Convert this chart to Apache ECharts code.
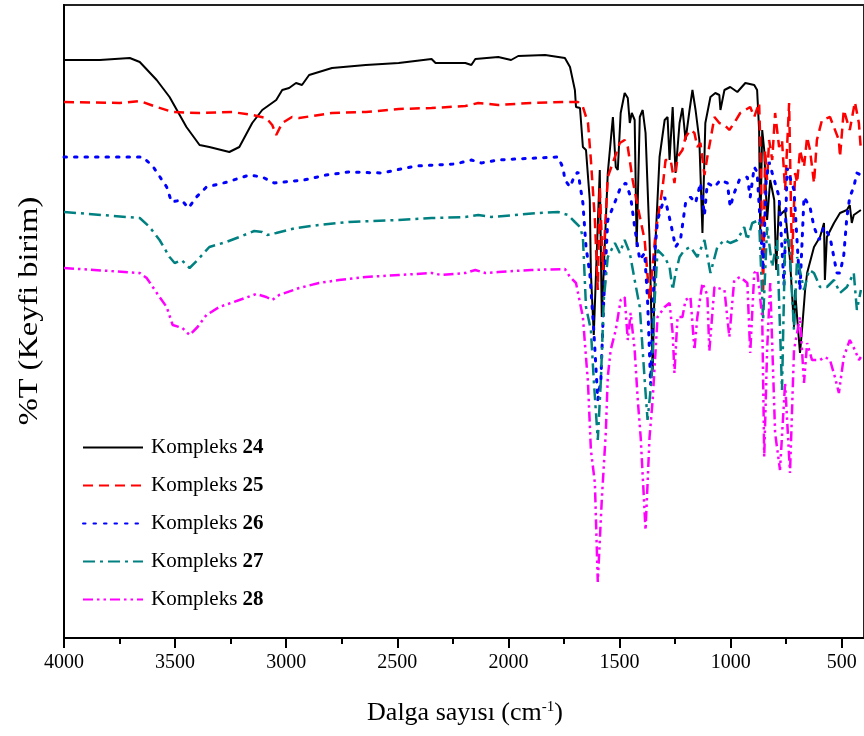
<!DOCTYPE html>
<html><head><meta charset="utf-8">
<script src="https://cdn.jsdelivr.net/npm/echarts@6/dist/echarts.min.js"></script>
<style>html,body{margin:0;padding:0;background:#fff}#c{width:864px;height:736px}</style>
</head><body><div id="c"></div>
<script>
const seriesNames = ['Kompleks 24','Kompleks 25','Kompleks 26','Kompleks 27','Kompleks 28'];
const xTickLabels = [4000,3500,3000,2500,2000,1500,1000,500];
const xMinorTicks = [3750,3250,2750,2250,1750,1250,750];
// [wavenumber cm-1, %T arbitrary units]
const k24 = [[4000,115.6],[3839,115.6],[3704,116],[3659,115.2],[3583,111.6],[3525,108.2],[3449,102.2],[3390,98.6],[3346,98.2],[3256,97.2],[3211,98.2],[3153,103],[3108,105.6],[3045,107.6],[3018,109.6],[2987,110],[2956,111],[2929,110.6],[2897,112.6],[2794,114],[2642,114.6],[2494,115],[2346,115.8],[2328,115],[2194,115],[2167,114.6],[2149,115.8],[2046,116.2],[1988,115.6],[1956,116.4],[1835,116.6],[1746,116],[1723,114.2],[1701,109.6],[1696,106.2],[1678,106],[1665,98.2],[1651,97.6],[1634,87.6],[1629,73],[1616,60.6],[1589,93.6],[1580,64.2],[1553,93],[1530,104.2],[1521,104.6],[1517,94.2],[1508,93.6],[1495,105],[1477,109],[1463,108],[1454,103],[1445,105],[1432,103.6],[1423,78.2],[1409,104.2],[1396,105.6],[1383,101],[1365,79.6],[1351,53.2],[1338,79.6],[1320,96.2],[1297,103.6],[1284,104.2],[1275,95.6],[1261,106.2],[1248,93],[1230,103],[1217,106],[1203,99.6],[1185,105.6],[1172,109.6],[1158,105.6],[1141,99.6],[1127,81],[1114,103],[1091,108.2],[1069,109],[1051,108.6],[1046,105.6],[1028,109.6],[1002,110.2],[970,109.2],[934,111],[894,110.6],[881,109.6],[872,101.6],[867,81],[858,101.6],[849,97.6],[836,83.6],[822,91.6],[804,87.6],[795,73.6],[782,87.6],[777,84.6],[755,85.6],[733,75.6],[715,62.2],[710,69.6],[701,64.2],[688,57],[679,61.6],[665,69.6],[656,73],[625,78.2],[598,80.2],[580,83],[576,71.6],[567,80.2],[535,83],[508,85],[477,85.6],[464,86.6],[455,83],[446,84.6],[414,85.6]];
const k25 = [[4000,107.2],[3749,107],[3659,107.4],[3583,106.2],[3511,105.2],[3390,105],[3243,105.2],[3153,104.6],[3090,104],[3063,102.6],[3045,100.6],[3018,103],[2974,104.2],[2942,104],[2794,105],[2642,105.2],[2494,105.8],[2346,106],[2194,106.4],[2136,107],[2046,106.6],[1898,107],[1746,107.2],[1687,107.2],[1665,106.2],[1642,103],[1629,95.6],[1611,83.6],[1598,69.6],[1589,90.2],[1575,73.6],[1553,92.2],[1521,96.2],[1499,99],[1477,99.6],[1463,98.2],[1441,91.6],[1418,86.2],[1387,79.6],[1365,67.6],[1338,81],[1306,90.2],[1293,95.6],[1270,95.6],[1253,91],[1239,96.2],[1217,97.6],[1203,100.2],[1181,101.6],[1163,101],[1150,98.2],[1136,99],[1118,92.6],[1105,96.2],[1091,99.6],[1073,104.2],[1051,103],[1028,102.6],[1006,101.6],[984,103],[957,105],[934,105.6],[912,106.2],[894,104.2],[872,107],[867,99.6],[854,69],[845,97.6],[836,91.6],[827,99.6],[813,95.6],[800,105],[782,98.2],[769,99.6],[755,89.6],[737,107],[724,75],[710,93],[701,91],[688,97.6],[670,94.2],[656,100.2],[643,97.6],[625,91],[612,99.6],[589,103.6],[553,104.2],[513,99.6],[508,96.2],[491,105.6],[464,101.6],[441,107.2],[423,103],[414,97.6]];
const k26 = [[4000,96.2],[3646,96.2],[3601,94.4],[3538,90.2],[3516,87.2],[3471,87.6],[3440,86],[3404,88.2],[3359,90.2],[3265,91.2],[3166,92.6],[3108,92.2],[3054,91],[3009,91.2],[2920,91.6],[2821,92.6],[2718,93.2],[2570,93],[2418,94.4],[2239,94.8],[2167,95.6],[2122,95],[2046,95.6],[1970,95.8],[1867,96],[1777,96.2],[1754,94],[1746,91.6],[1723,90.2],[1701,92.6],[1687,93.2],[1665,87],[1651,78.2],[1634,73],[1616,61.6],[1598,47.6],[1584,51.6],[1571,67.6],[1553,83.6],[1517,87.6],[1495,90.2],[1472,91],[1450,88.2],[1432,82.2],[1409,75.6],[1387,77],[1374,67.6],[1360,50.6],[1342,76.6],[1329,83.6],[1297,88.2],[1270,83],[1248,78.2],[1226,79.6],[1203,87],[1181,88.2],[1158,87],[1136,91],[1118,84.6],[1105,91],[1073,90.2],[1046,91.6],[1015,91],[1002,86.2],[984,89],[961,91.6],[925,92.2],[912,88.2],[894,94.2],[881,93.2],[854,73.6],[840,91.6],[827,95.2],[813,93],[782,88.2],[760,70.6],[746,94],[715,89.6],[688,69.6],[670,88.2],[643,86.2],[625,82.2],[602,79.6],[580,82.2],[553,80.2],[522,73],[508,73],[491,76.6],[477,84.2],[464,88.2],[446,90.2],[432,93],[414,92.6]];
const k27 = [[4000,85.2],[3659,84],[3615,82.2],[3570,79.6],[3525,76.2],[3502,75],[3471,75.6],[3435,74],[3399,75.6],[3346,78.2],[3270,79.2],[3211,80.2],[3144,81.4],[3108,81.2],[3086,80.6],[3045,81],[2956,82],[2853,82.6],[2718,83.2],[2494,83.6],[2346,84],[2194,84.2],[2136,84.6],[2077,84.2],[1970,84.6],[1867,85],[1777,85.2],[1732,84.6],[1701,83.2],[1678,82.2],[1665,80.2],[1651,66.2],[1629,61.6],[1616,51.6],[1598,39.6],[1584,51.6],[1571,67.6],[1553,76.2],[1521,79],[1499,77],[1477,79.6],[1454,77],[1432,71.6],[1409,66.2],[1387,51.6],[1374,43.6],[1356,51.6],[1342,67.6],[1329,77.6],[1297,76.2],[1275,74.2],[1261,69.6],[1248,73],[1230,76.2],[1208,77.6],[1181,78.2],[1150,76.2],[1118,79.6],[1091,73],[1060,78.2],[1028,79.6],[1002,79],[970,79.6],[939,82.2],[925,79.6],[903,83],[872,83.6],[854,63.6],[836,82.2],[813,74.2],[791,79.6],[769,49.6],[755,79.6],[737,79.6],[715,61.6],[701,76.2],[670,69.6],[647,73.6],[625,73],[598,70.2],[567,70.2],[535,71.6],[508,69],[477,70.2],[446,73],[432,65.6],[414,69.6]];
const k28 = [[4000,74],[3659,73],[3628,72],[3570,68.2],[3538,66.2],[3511,62.6],[3467,62],[3435,60.6],[3399,62.2],[3359,64.6],[3301,66.2],[3211,67.6],[3135,68.8],[3090,68.2],[3063,67.6],[3032,68.6],[2942,70],[2853,71],[2763,71.6],[2642,72.2],[2494,72.6],[2346,73],[2301,72.6],[2194,73],[2149,73.6],[2104,73],[2046,73.2],[1898,73.6],[1746,73.8],[1723,72.2],[1696,71],[1665,64.2],[1642,51],[1629,37.6],[1611,31],[1598,11.2],[1580,27.6],[1562,41],[1553,52.2],[1540,57.6],[1517,61.6],[1495,67.6],[1477,68.2],[1463,59.6],[1450,65],[1432,57.6],[1418,47.6],[1405,40.2],[1383,21.6],[1365,40.2],[1351,47.6],[1329,64.2],[1297,66.2],[1275,67],[1261,61],[1253,53],[1239,64.2],[1217,64.2],[1203,67.6],[1181,68.2],[1163,57.6],[1150,64.2],[1127,71],[1105,68.6],[1096,57.4],[1073,70.2],[1028,69.6],[1006,60.2],[984,71.6],[957,72.2],[925,71],[912,57],[894,73],[881,73.6],[858,64.2],[849,36.2],[836,57.6],[822,71],[800,41],[778,33.6],[755,51],[733,33],[715,57.6],[688,64.2],[670,51],[656,59],[634,55.6],[598,55.6],[576,56.2],[553,55.6],[531,52.2],[513,49],[491,56.2],[464,59.6],[441,57.6],[423,55.6],[414,56.2]];

const colors = ['#000000','#ff0000','#0000ff','#008080','#ff00ff'];
const dashes = ['solid',[10,6],[2.5,8],[12,5,3,5],[10,4,2.5,4,2.5,4]];
const widths = [2,2.5,3,2.5,2.5];
const datas = [k24,k25,k26,k27,k28];

const FONT = '"Liberation Serif","Times New Roman",serif';
const chart = echarts.init(document.getElementById('c'));
chart.setOption({
  animation:false,
  backgroundColor:'#fff',
  grid:{left:64,right:-3,top:5,bottom:98,show:true,borderColor:'#222',borderWidth:2,containLabel:false},
  legend:{
    orient:'vertical',left:82,top:437,padding:0,itemWidth:60,itemHeight:14,itemGap:17,
    data:seriesNames,
    itemStyle:{opacity:0},
    formatter:n=>'Kompleks {b|'+n.split(' ')[1]+'}',
    textStyle:{fontFamily:FONT,fontSize:21,color:'#000',padding:[0,0,0,3],
      rich:{b:{fontFamily:FONT,fontSize:21,fontWeight:'bold',color:'#000'}}}
  },
  xAxis:[{
    type:'value',inverse:true,min:400,max:4000,interval:50,position:'bottom',
    axisLine:{show:true,onZero:false,lineStyle:{color:'#000',width:2}},
    axisTick:{show:true,length:10,inside:false,customValues:xTickLabels,lineStyle:{color:'#000',width:2}},
    axisLabel:{customValues:xTickLabels,formatter:v=>String(v),fontFamily:FONT,fontSize:20,color:'#000',margin:15},
    splitLine:{show:false}
  },{
    type:'value',inverse:true,min:400,max:4000,interval:50,position:'bottom',gridIndex:0,
    axisLine:{show:false},
    axisTick:{show:true,length:6,customValues:xMinorTicks,lineStyle:{color:'#000',width:2}},
    axisLabel:{show:false},splitLine:{show:false}
  }],
  yAxis:{type:'value',min:0,max:126.6,
    axisLine:{show:true,lineStyle:{color:'#000',width:2}},
    axisTick:{show:false},axisLabel:{show:false},splitLine:{show:false}},
  graphic:[
    {type:'text',x:30,y:311,rotation:Math.PI/2,scaleX:1.2,
     style:{text:'%T (Keyfi birim)',font:'27px '+FONT,fill:'#000',align:'center',verticalAlign:'middle'}},
    {type:'text',x:465,y:713,
     style:{text:'Dalga sayısı (cm{s|-1})',font:'26px '+FONT,fill:'#000',align:'center',verticalAlign:'middle',
       rich:{s:{font:'15px '+FONT,verticalAlign:'top',padding:[0,0,10,0]}}}}
  ],
  series:datas.map((d,i)=>({
    name:seriesNames[i],type:'line',data:d,showSymbol:false,symbol:'none',
    xAxisIndex:0,
    lineStyle:{color:colors[i],width:widths[i],type:dashes[i],cap:i===2?'round':'butt'},
    itemStyle:{color:colors[i]},z:2+i
  }))
});
</script></body></html>
